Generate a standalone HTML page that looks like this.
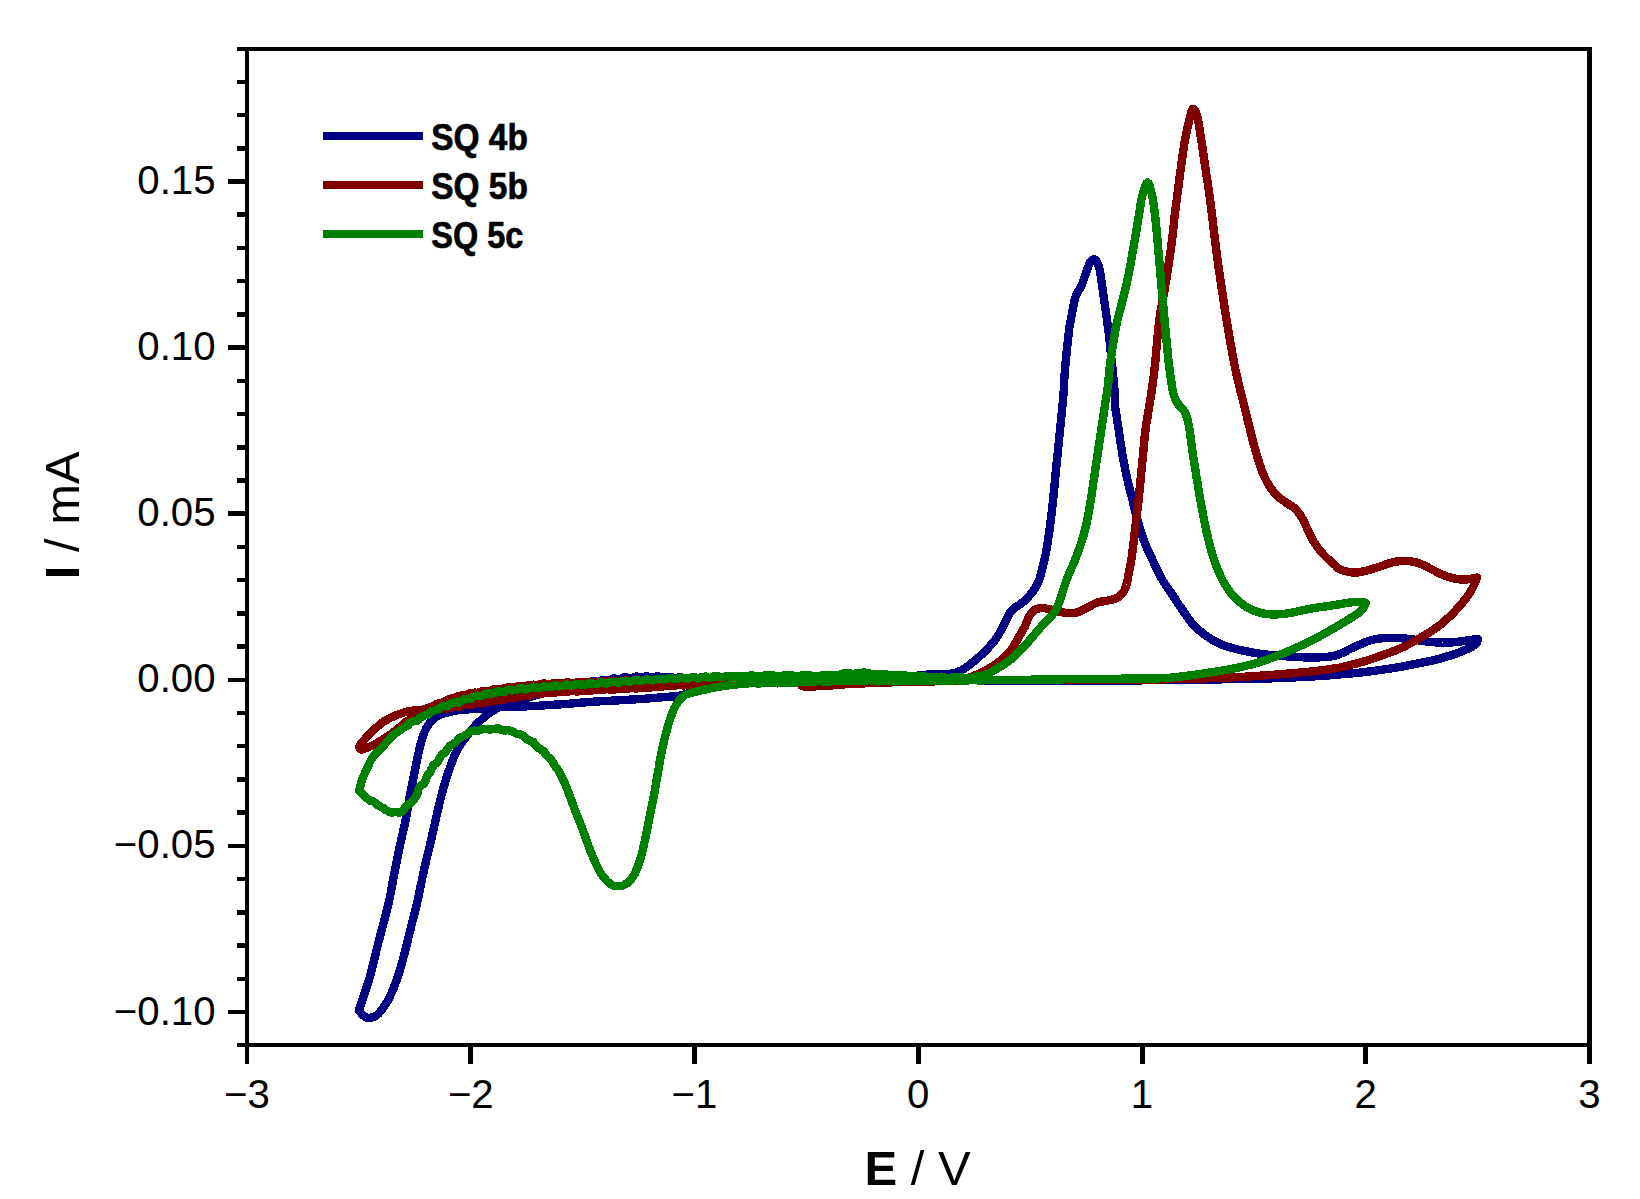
<!DOCTYPE html>
<html lang="en"><head><meta charset="utf-8"><title>Cyclic voltammograms SQ 4b, SQ 5b, SQ 5c</title>
<style>html,body{margin:0;padding:0;background:#fff}body{width:1640px;height:1199px;overflow:hidden}</style></head>
<body>
<svg width="1640" height="1199" viewBox="0 0 1640 1199" style="display:block">
<rect width="1640" height="1199" fill="#fff"/>
<g id="curves" shape-rendering="crispEdges">
<path d="M750.0,679.5L751.3,679.5L752.8,679.5L754.4,679.5L756.2,679.5L758.1,679.5L760.1,679.5L762.2,679.5L764.4,679.5L766.7,679.5L769.1,679.5L771.6,679.6L774.2,679.6L776.9,679.6L779.6,679.6L782.4,679.6L785.2,679.6L788.1,679.6L791.0,679.6L793.9,679.6L796.9,679.6L799.9,679.6L802.8,679.6L805.8,679.6L808.8,679.6L811.8,679.6L814.7,679.6L817.6,679.6L820.5,679.6L823.4,679.6L826.2,679.6L828.9,679.6L831.6,679.6L834.2,679.6L836.8,679.6L839.2,679.6L841.6,679.6L843.8,679.6L846.0,679.5L848.1,679.5L850.0,679.5L853.7,679.4L857.1,679.4L860.4,679.3L863.6,679.2L866.6,679.2L869.5,679.1L872.2,679.0L874.8,678.9L877.3,678.8L879.7,678.7L882.0,678.6L884.2,678.4L886.3,678.3L888.4,678.2L890.4,678.1L892.4,678.0L894.3,677.9L896.2,677.7L898.1,677.6L900.0,677.5L903.5,677.2L906.6,677.0L909.4,676.7L911.9,676.4L914.2,676.1L916.3,675.8L918.4,675.5L920.5,675.2L922.7,675.0L925.0,674.8L927.7,674.6L930.5,674.5L933.2,674.5L936.0,674.4L938.6,674.4L941.2,674.4L943.7,674.3L945.9,674.2L948.0,674.0L951.1,673.6L953.6,673.2L955.7,672.7L957.7,672.0L960.0,671.0L962.1,669.9L964.1,668.7L966.2,667.3L968.3,665.7L970.4,664.1L972.5,662.5L974.3,661.0L976.1,659.5L978.0,657.9L979.8,656.2L981.6,654.5L983.3,652.9L985.0,651.2L986.9,649.4L988.7,647.5L990.4,645.5L992.0,643.7L993.6,641.8L995.0,640.0L996.5,637.9L997.8,635.9L999.0,633.9L1000.1,632.0L1001.2,630.0L1002.6,627.4L1003.9,624.8L1005.1,622.3L1006.2,620.0L1007.5,617.2L1008.7,614.7L1010.0,612.5L1011.5,610.6L1013.1,609.1L1015.0,607.5L1016.7,606.3L1018.6,605.2L1020.6,603.9L1022.5,602.5L1024.4,600.8L1026.3,599.0L1028.2,597.0L1030.0,595.0L1031.7,592.9L1033.4,590.7L1034.9,588.5L1036.2,586.2L1037.4,584.1L1038.4,582.0L1039.2,579.8L1040.0,577.5L1040.7,575.1L1041.3,572.7L1041.9,570.2L1042.5,567.5L1043.1,565.4L1043.6,563.3L1044.2,561.0L1044.8,558.3L1045.5,555.0L1045.9,553.0L1046.3,550.8L1046.7,548.4L1047.1,545.9L1047.5,543.3L1047.9,540.6L1048.3,537.9L1048.7,535.2L1049.1,532.6L1049.5,530.0L1049.8,527.5L1050.2,525.0L1050.5,522.5L1050.8,520.0L1051.1,517.5L1051.4,515.0L1051.7,512.5L1051.9,510.0L1052.2,507.5L1052.5,505.0L1052.8,502.5L1053.0,500.0L1053.3,497.5L1053.5,495.0L1053.8,492.5L1054.0,490.0L1054.3,487.5L1054.5,485.0L1054.8,482.5L1055.0,480.0L1055.2,477.5L1055.5,475.0L1055.7,472.5L1056.0,470.0L1056.2,467.5L1056.5,465.0L1056.7,462.5L1057.0,460.0L1057.2,457.5L1057.5,455.0L1057.8,452.5L1058.0,450.0L1058.2,447.5L1058.5,445.0L1058.8,442.5L1059.0,440.0L1059.2,437.5L1059.5,435.0L1059.8,432.5L1060.0,430.0L1060.3,427.5L1060.5,424.9L1060.8,422.2L1061.1,419.6L1061.3,417.0L1061.6,414.4L1061.8,411.9L1062.1,409.5L1062.3,407.2L1062.5,405.0L1062.8,402.1L1063.0,399.4L1063.2,396.8L1063.4,394.4L1063.6,392.2L1063.8,390.0L1063.9,388.0L1064.1,385.0L1064.2,382.6L1064.2,380.3L1064.4,377.5L1064.6,375.2L1064.7,372.7L1065.0,370.1L1065.2,367.5L1065.4,364.9L1065.6,362.5L1065.9,359.8L1066.1,357.3L1066.4,354.8L1066.6,352.4L1066.9,350.0L1067.1,347.7L1067.4,345.4L1067.6,343.2L1067.9,341.0L1068.1,338.8L1068.3,336.5L1068.6,334.2L1068.8,331.9L1069.1,329.7L1069.4,327.5L1069.8,324.9L1070.3,322.4L1070.8,320.0L1071.2,317.5L1071.7,315.0L1072.2,312.4L1072.6,309.9L1073.1,307.5L1073.6,305.2L1074.0,302.9L1074.5,300.7L1075.0,298.8L1075.7,296.5L1076.6,294.5L1077.5,292.5L1078.7,290.5L1080.0,288.5L1081.2,286.2L1082.1,284.2L1082.9,282.0L1083.6,279.7L1084.4,277.5L1085.2,275.3L1086.0,273.0L1086.8,270.8L1087.5,268.8L1088.3,266.4L1089.1,264.3L1090.0,262.5L1091.9,260.1L1093.9,259.0L1095.9,260.5L1097.7,263.5L1098.6,265.6L1099.3,268.1L1100.0,271.2L1100.3,273.2L1100.7,275.2L1101.0,277.5L1101.3,279.9L1101.6,282.4L1102.0,285.0L1102.3,287.3L1102.7,289.7L1103.0,292.2L1103.4,294.8L1103.8,297.4L1104.1,300.0L1104.5,302.5L1104.9,305.0L1105.2,307.4L1105.6,309.9L1105.9,312.3L1106.3,314.8L1106.6,317.4L1107.0,320.0L1107.3,322.3L1107.6,324.7L1107.9,327.1L1108.2,329.5L1108.6,332.0L1108.9,334.6L1109.2,337.2L1109.5,340.0L1109.8,342.3L1110.0,344.7L1110.2,347.1L1110.5,349.6L1110.8,352.2L1111.0,354.8L1111.2,357.3L1111.5,359.9L1111.8,362.5L1112.0,365.0L1112.3,367.5L1112.5,370.2L1112.8,372.8L1113.1,375.5L1113.4,378.1L1113.6,380.7L1113.9,383.2L1114.1,385.6L1114.3,387.9L1114.5,390.0L1114.7,393.0L1114.7,395.4L1114.7,397.5L1114.7,399.6L1114.8,402.0L1115.0,405.0L1115.2,407.1L1115.5,409.4L1115.9,411.8L1116.3,414.3L1116.7,416.9L1117.1,419.5L1117.5,422.2L1117.9,424.8L1118.4,427.5L1118.8,430.0L1119.1,432.5L1119.5,435.0L1119.8,437.5L1120.2,440.0L1120.5,442.5L1120.9,445.0L1121.3,447.5L1121.7,450.0L1122.1,452.5L1122.5,455.0L1122.9,457.5L1123.4,460.1L1123.9,462.7L1124.4,465.2L1124.9,467.8L1125.4,470.4L1126.0,472.9L1126.5,475.3L1127.0,477.7L1127.5,480.0L1128.1,482.7L1128.8,485.4L1129.4,487.9L1130.0,490.3L1130.6,492.7L1131.2,495.1L1131.9,497.5L1132.5,500.0L1133.1,502.5L1133.7,505.0L1134.3,507.5L1134.9,510.0L1135.5,512.5L1136.2,515.0L1136.8,517.5L1137.5,520.0L1138.2,522.5L1138.9,525.0L1139.6,527.5L1140.4,530.0L1141.2,532.5L1142.0,535.0L1142.8,537.5L1143.8,540.0L1144.6,542.2L1145.5,544.4L1146.4,546.7L1147.4,548.9L1148.4,551.1L1149.4,553.3L1150.4,555.6L1151.5,557.8L1152.5,560.0L1153.6,562.2L1154.6,564.5L1155.7,566.9L1156.9,569.2L1158.0,571.5L1159.1,573.7L1160.3,575.9L1161.4,578.0L1162.5,580.0L1163.9,582.4L1165.4,584.7L1166.8,586.8L1168.2,588.8L1169.6,590.9L1171.1,592.9L1172.5,595.0L1173.9,597.2L1175.4,599.3L1176.8,601.5L1178.2,603.7L1179.6,605.8L1181.1,607.9L1182.5,610.0L1183.9,612.1L1185.3,614.1L1186.7,616.1L1188.0,618.1L1189.5,620.0L1190.9,621.9L1192.5,623.8L1194.1,625.5L1195.8,627.2L1197.6,628.9L1199.3,630.5L1201.2,632.0L1203.1,633.5L1205.0,635.0L1207.0,636.4L1209.1,637.8L1211.3,639.1L1213.4,640.4L1215.6,641.6L1217.8,642.7L1220.0,643.8L1222.4,644.8L1224.6,645.7L1226.9,646.5L1229.3,647.2L1231.9,648.0L1235.0,648.8L1237.1,649.3L1239.4,649.8L1241.8,650.3L1244.3,650.9L1246.9,651.4L1249.5,651.9L1252.2,652.4L1254.8,652.9L1257.5,653.4L1260.0,653.8L1262.5,654.1L1265.0,654.4L1267.5,654.7L1270.0,655.0L1272.5,655.2L1275.0,655.5L1277.5,655.7L1280.0,655.9L1282.5,656.1L1285.0,656.2L1287.5,656.4L1290.1,656.6L1292.7,656.8L1295.2,656.9L1297.8,657.1L1300.4,657.2L1302.9,657.3L1305.3,657.4L1307.7,657.5L1310.0,657.5L1312.8,657.5L1315.6,657.4L1318.3,657.4L1320.9,657.2L1323.5,657.1L1325.8,656.9L1328.0,656.7L1330.0,656.5L1333.2,656.0L1335.6,655.5L1337.7,654.8L1340.0,654.0L1342.5,652.9L1345.0,651.6L1347.5,650.3L1350.0,649.0L1352.5,647.8L1355.0,646.7L1357.5,645.6L1360.0,644.5L1362.5,643.4L1365.0,642.3L1367.5,641.3L1370.0,640.5L1372.5,639.8L1375.0,639.3L1377.5,638.8L1380.0,638.5L1382.4,638.2L1384.7,638.1L1387.1,638.0L1390.0,638.0L1392.2,638.0L1394.6,638.0L1397.2,638.1L1399.8,638.2L1402.4,638.3L1405.0,638.5L1407.6,638.8L1410.2,639.1L1412.8,639.4L1415.4,639.8L1417.8,640.2L1420.0,640.5L1422.9,640.9L1425.3,641.3L1427.6,641.7L1430.0,642.0L1432.5,642.2L1435.0,642.3L1437.5,642.4L1440.0,642.5L1442.5,642.6L1445.0,642.6L1447.5,642.6L1450.0,642.5L1452.5,642.3L1455.0,642.1L1457.5,641.8L1460.0,641.5L1462.5,641.1L1465.1,640.8L1467.6,640.4L1470.0,640.0L1473.1,639.6L1476.0,639.2L1478.0,639.0L1477.0,642.5L1475.4,644.2L1473.0,646.0L1471.3,647.0L1469.4,648.0L1467.2,649.0L1465.0,650.0L1462.6,651.0L1460.1,652.1L1457.5,653.1L1455.0,654.0L1452.5,654.8L1450.0,655.6L1447.5,656.3L1445.0,657.0L1442.6,657.8L1440.3,658.5L1437.9,659.2L1435.0,660.0L1432.8,660.5L1430.6,661.0L1428.1,661.4L1425.6,661.9L1422.8,662.4L1420.0,663.0L1417.7,663.5L1415.4,664.0L1412.9,664.5L1410.3,665.0L1407.7,665.5L1405.1,666.0L1402.5,666.5L1400.0,667.0L1397.5,667.4L1395.0,667.8L1392.5,668.2L1390.0,668.6L1387.5,668.9L1385.0,669.3L1382.5,669.7L1380.0,670.0L1377.5,670.3L1375.0,670.7L1372.5,671.0L1370.0,671.4L1367.5,671.7L1365.0,672.0L1362.5,672.3L1360.0,672.6L1357.5,672.9L1355.0,673.1L1352.5,673.3L1350.0,673.6L1347.5,673.8L1345.0,674.0L1342.5,674.2L1340.0,674.4L1337.6,674.6L1335.5,674.8L1333.4,675.0L1331.2,675.2L1329.0,675.4L1326.4,675.6L1323.5,675.8L1320.0,676.0L1318.0,676.1L1316.0,676.2L1313.7,676.4L1311.4,676.5L1309.0,676.6L1306.5,676.8L1303.9,676.9L1301.2,677.0L1298.6,677.2L1295.9,677.3L1293.2,677.4L1290.5,677.6L1287.8,677.7L1285.1,677.8L1282.5,677.9L1280.0,678.0L1277.7,678.1L1275.7,678.2L1273.9,678.2L1272.3,678.3L1270.9,678.4L1269.4,678.4L1267.9,678.5L1266.2,678.5L1264.4,678.6L1262.3,678.6L1259.9,678.7L1257.0,678.7L1253.7,678.8L1249.8,678.9L1245.2,678.9L1240.0,679.0L1238.4,679.0L1236.7,679.0L1235.0,679.1L1233.2,679.1L1231.4,679.1L1229.6,679.1L1227.7,679.2L1225.8,679.2L1223.8,679.2L1221.8,679.3L1219.8,679.3L1217.7,679.3L1215.6,679.4L1213.4,679.4L1211.3,679.4L1209.0,679.5L1206.8,679.5L1204.5,679.5L1202.2,679.5L1199.8,679.6L1197.5,679.6L1195.1,679.6L1192.6,679.7L1190.1,679.7L1187.6,679.7L1185.1,679.8L1182.6,679.8L1180.0,679.8L1177.4,679.9L1174.8,679.9L1172.1,679.9L1169.4,680.0L1166.7,680.0L1164.0,680.0L1161.3,680.1L1158.5,680.1L1155.7,680.1L1152.9,680.1L1150.1,680.2L1147.3,680.2L1144.4,680.2L1141.6,680.3L1138.7,680.3L1135.8,680.3L1132.9,680.3L1129.9,680.3L1127.0,680.4L1124.0,680.4L1121.1,680.4L1118.1,680.4L1115.1,680.4L1112.1,680.5L1109.1,680.5L1106.1,680.5L1103.0,680.5L1100.0,680.5L1097.9,680.5L1095.7,680.5L1093.5,680.5L1091.3,680.5L1089.1,680.5L1086.8,680.5L1084.5,680.5L1082.2,680.5L1079.9,680.5L1077.5,680.5L1075.2,680.5L1072.8,680.5L1070.4,680.5L1067.9,680.5L1065.5,680.5L1063.0,680.5L1060.6,680.5L1058.1,680.5L1055.6,680.5L1053.0,680.5L1050.5,680.5L1048.0,680.5L1045.4,680.5L1042.8,680.5L1040.3,680.5L1037.7,680.5L1035.1,680.5L1032.4,680.5L1029.8,680.4L1027.2,680.4L1024.6,680.4L1021.9,680.4L1019.3,680.4L1016.6,680.4L1014.0,680.4L1011.3,680.4L1008.6,680.4L1006.0,680.4L1003.3,680.4L1000.6,680.3L998.0,680.3L995.3,680.3L992.6,680.3L989.9,680.3L987.3,680.3L984.6,680.3L981.9,680.3L979.3,680.3L976.6,680.2L974.0,680.2L971.3,680.2L968.7,680.2L966.1,680.2L963.4,680.2L960.8,680.2L958.2,680.2L955.6,680.2L953.0,680.2L950.5,680.1L947.9,680.1L945.3,680.1L942.8,680.1L940.3,680.1L937.8,680.1L935.3,680.1L932.8,680.1L930.3,680.1L927.9,680.1L925.4,680.1L923.0,680.1L920.6,680.0L918.2,680.0L915.9,680.0L913.6,680.0L911.2,680.0L908.9,680.0L906.7,680.0L904.4,680.0L902.2,680.0L900.0,680.0L897.1,680.0L894.2,680.0L891.3,680.0L888.3,680.0L885.4,680.0L882.5,680.0L879.6,680.0L876.7,680.0L873.8,680.0L870.9,680.0L868.1,680.0L865.2,680.0L862.3,680.0L859.5,680.0L856.6,680.0L853.8,680.0L851.0,680.0L848.2,680.0L845.4,680.0L842.6,680.0L839.8,680.0L837.1,680.0L834.3,680.0L831.6,680.0L828.9,680.0L826.2,680.0L823.5,680.0L820.9,680.1L818.2,680.1L815.6,680.1L813.0,680.1L810.5,680.1L807.9,680.1L805.4,680.1L802.9,680.1L800.4,680.1L797.9,680.1L795.5,680.1L793.1,680.1L790.7,680.1L788.4,680.1L786.1,680.1L783.8,680.1L781.5,680.1L779.3,680.1L777.1,680.1L774.9,680.1L772.8,680.1L770.7,680.1L768.6,680.1L766.6,680.1L764.6,680.1L762.6,680.1L760.7,680.1L758.8,680.1L757.0,680.0L755.2,680.0L753.4,680.0L751.7,680.0L750.0,680.0L745.3,680.0L741.0,679.9L737.2,679.9L733.7,679.8L730.7,679.7L727.9,679.7L725.4,679.6L723.2,679.5L721.1,679.4L719.2,679.4L717.5,679.3L715.8,679.1L714.1,679.0L712.5,678.5L710.7,679.0L708.9,679.0L706.9,679.5L704.9,678.4L702.6,678.2L700.0,677.9L697.6,679.2L695.2,678.8L692.7,677.6L690.2,677.9L687.6,678.1L685.0,678.6L682.4,677.9L679.8,676.7L677.1,677.9L674.5,678.4L671.8,677.1L669.2,676.9L666.5,677.3L663.9,677.6L661.3,677.6L658.7,676.3L656.2,676.5L653.7,677.9L651.2,677.1L648.8,676.7L646.5,676.2L644.2,677.0L642.0,677.8L639.1,676.8L636.3,676.6L633.6,677.5L631.0,677.8L628.4,678.0L625.9,677.3L623.4,677.4L621.1,679.1L618.7,678.8L616.3,678.8L613.9,678.3L611.7,679.2L609.5,680.5L607.1,680.0L604.7,680.2L602.3,679.8L600.1,681.4L597.6,682.2L594.8,681.3L592.2,681.8L589.6,682.8L587.1,683.6L584.5,684.0L581.7,683.5L579.2,684.4L576.9,686.3L574.2,685.8L571.5,685.7L569.2,686.8L566.9,687.6L564.7,688.8L562.1,688.0L559.9,688.4L557.2,690.1L554.5,690.7L551.6,690.7L549.0,691.5L546.5,692.3L544.1,693.2L541.6,693.7L539.3,694.3L536.9,695.0L534.6,695.7L532.3,696.3L530.0,697.0L527.3,697.8L524.5,698.6L521.8,699.4L519.2,700.2L516.6,701.0L514.0,701.8L511.6,702.6L509.3,703.4L507.1,704.2L505.0,705.0L502.3,706.1L499.8,707.2L497.6,708.2L495.5,709.3L493.6,710.4L491.7,711.4L490.0,712.5L487.8,714.0L485.9,715.4L484.3,716.9L482.7,718.4L481.0,720.0L479.3,721.6L477.6,723.3L475.9,725.0L474.2,726.8L472.5,728.8L471.0,730.5L469.6,732.3L468.1,734.1L466.6,736.1L465.2,738.0L463.8,740.0L462.4,742.0L461.0,744.0L459.7,746.0L458.4,748.1L457.2,750.3L456.0,752.5L454.9,754.9L453.8,757.3L452.8,759.8L451.9,762.4L450.9,765.0L450.0,767.5L449.1,770.0L448.3,772.4L447.4,774.8L446.6,777.2L445.8,779.8L445.0,782.5L444.4,784.6L443.7,786.9L443.1,789.2L442.5,791.5L441.8,793.9L441.2,796.3L440.6,798.6L440.0,801.0L439.4,803.3L438.9,805.6L438.4,807.8L437.8,810.1L437.3,812.4L436.8,814.8L436.2,817.3L435.6,820.0L435.1,822.3L434.6,824.6L434.0,827.1L433.5,829.6L432.9,832.1L432.3,834.7L431.7,837.3L431.2,839.9L430.6,842.5L430.0,845.0L429.4,847.5L428.8,849.9L428.2,852.3L427.6,854.8L427.0,857.2L426.4,859.6L425.8,862.1L425.2,864.7L424.6,867.3L424.0,870.0L423.5,872.4L423.0,874.8L422.4,877.4L421.9,880.0L421.4,882.6L420.8,885.2L420.3,887.9L419.8,890.5L419.2,893.0L418.7,895.4L418.2,897.8L417.8,900.0L417.1,902.8L416.5,905.4L415.9,907.9L415.3,910.3L414.7,912.5L414.1,914.8L413.6,916.9L413.0,919.1L412.5,921.2L411.8,923.9L411.2,926.5L410.6,929.0L409.9,931.4L409.3,933.9L408.7,936.3L408.1,938.8L407.5,941.3L406.9,943.8L406.3,946.2L405.7,948.8L405.0,951.2L404.4,953.8L403.8,956.2L403.1,958.8L402.4,961.4L401.7,963.9L400.9,966.5L400.2,969.0L399.5,971.4L398.8,973.8L397.9,976.3L397.1,978.7L396.2,981.0L395.4,983.2L394.6,985.4L393.8,987.5L392.8,989.9L391.8,992.2L390.8,994.5L389.8,996.6L388.8,998.8L387.6,1000.9L386.3,1003.0L385.1,1005.0L383.8,1007.0L382.5,1008.8L380.9,1010.8L379.4,1012.7L377.8,1014.3L376.2,1015.6L374.1,1016.8L372.0,1017.4L370.0,1017.8L367.5,1017.9L365.0,1016.9L363.4,1015.6L361.6,1013.7L359.9,1011.9L358.8,1010.6L359.2,1009.2L359.8,1007.4L360.6,1005.2L361.4,1002.8L362.3,1000.2L363.1,997.6L364.0,995.0L364.7,992.7L365.5,990.4L366.3,988.0L367.1,985.6L368.0,983.1L368.8,980.5L369.6,977.8L370.4,975.0L371.0,972.7L371.6,970.3L372.2,967.9L372.8,965.4L373.4,962.8L374.0,960.2L374.7,957.7L375.3,955.1L375.9,952.5L376.5,950.0L377.1,947.5L377.8,945.0L378.4,942.5L379.1,940.0L379.7,937.5L380.4,935.0L381.1,932.5L381.7,930.0L382.4,927.5L383.0,925.0L383.6,922.5L384.3,920.0L385.0,917.5L385.6,915.0L386.3,912.5L386.9,910.0L387.5,907.5L388.1,905.0L388.7,902.5L389.3,900.0L389.8,897.5L390.3,895.0L390.8,892.5L391.3,890.0L391.7,887.5L392.2,885.0L392.6,882.5L393.1,880.0L393.5,877.5L394.0,875.0L394.5,872.5L395.0,870.1L395.4,867.7L395.9,865.2L396.4,862.8L396.9,860.4L397.4,857.9L397.9,855.3L398.4,852.7L399.0,850.0L399.5,847.7L400.0,845.2L400.6,842.7L401.2,840.2L401.7,837.6L402.3,835.0L402.9,832.4L403.5,829.8L404.1,827.3L404.6,824.8L405.1,822.3L405.6,820.0L406.1,817.3L406.6,814.6L407.1,811.9L407.5,809.4L408.0,806.8L408.4,804.3L408.8,801.9L409.2,799.5L409.6,797.2L410.0,795.0L410.5,792.3L411.0,789.8L411.5,787.4L411.9,785.1L412.4,782.8L412.8,780.6L413.3,778.3L413.8,776.0L414.2,773.6L414.7,771.3L415.2,768.9L415.6,766.5L416.1,764.2L416.6,761.9L417.0,759.6L417.5,757.5L418.1,754.8L418.7,752.1L419.2,749.6L419.8,747.1L420.4,744.8L421.0,742.5L421.8,739.9L422.5,737.5L423.3,735.2L424.1,733.1L425.0,731.0L426.1,728.6L427.3,726.4L428.6,724.4L430.0,722.5L431.6,720.7L433.4,718.9L435.4,717.4L437.5,716.0L439.8,714.9L442.2,714.0L444.8,713.2L447.5,712.5L449.8,711.9L452.1,711.4L454.5,710.9L457.1,710.4L460.0,710.0L462.2,709.8L464.4,709.6L466.8,709.4L469.2,709.3L471.8,709.1L474.6,708.9L477.5,708.8L479.7,708.6L482.0,708.4L484.4,708.2L487.0,708.0L489.5,707.8L492.1,707.6L494.8,707.5L497.4,707.3L500.0,707.1L502.5,707.0L505.0,706.9L507.7,706.8L510.3,706.7L513.0,706.6L515.7,706.6L518.3,706.5L520.8,706.5L523.2,706.4L525.4,706.4L527.5,706.3L530.4,706.2L532.8,706.1L534.9,706.0L536.9,705.8L539.2,705.7L542.0,705.5L544.2,705.4L546.5,705.2L548.9,705.1L551.5,704.9L554.1,704.7L556.8,704.6L559.5,704.4L562.3,704.2L565.0,704.0L567.5,703.8L570.0,703.6L572.6,703.4L575.3,703.2L577.9,702.9L580.6,702.7L583.3,702.5L585.9,702.3L588.5,702.1L591.0,701.9L593.5,701.7L595.9,701.6L598.3,701.4L600.6,701.3L602.9,701.2L605.3,701.0L607.6,700.9L610.0,700.8L612.5,700.6L615.0,700.5L617.4,700.4L619.8,700.2L622.3,700.1L624.8,699.9L627.3,699.8L629.8,699.7L632.4,699.5L634.8,699.4L637.3,699.2L639.7,699.1L642.0,698.9L644.8,698.7L647.5,698.5L650.2,698.3L652.9,698.1L655.5,697.8L658.0,697.6L660.4,697.4L662.8,697.2L665.0,697.0L668.1,696.8L671.0,696.5L673.8,696.4L676.3,696.1L678.7,695.9L681.0,695.5L683.3,695.0L685.2,694.3L687.0,693.6L689.1,692.9L692.0,692.0L694.0,691.5L696.1,690.9L698.3,690.3L700.7,689.6L703.3,689.0L706.0,688.3L708.9,687.7L711.9,687.1L715.0,686.5L717.2,686.1L719.7,685.8L722.3,685.4L725.1,685.0L728.0,684.6L731.0,684.3L733.9,683.9L736.8,683.6L739.6,683.2L742.2,682.9L744.6,682.6L746.7,682.4L748.5,682.2L750.0,682.0" fill="none" stroke="#000080" stroke-width="8.4" stroke-linejoin="round" stroke-linecap="round"/>
<path d="M750.0,680.0L748.6,680.0L747.1,680.0L745.3,680.0L743.3,680.0L741.2,680.0L738.9,680.0L736.5,680.0L734.0,680.0L731.3,680.0L728.6,680.0L725.8,680.0L723.0,680.0L720.1,680.0L717.2,680.0L714.2,680.0L711.3,680.0L708.4,680.0L705.5,680.0L702.7,680.0L700.0,680.0L697.6,680.0L695.2,680.1L692.8,680.2L690.3,680.2L687.8,679.6L685.3,680.0L682.7,680.2L680.1,680.5L677.6,680.0L675.0,679.6L672.4,680.3L669.8,680.3L667.2,680.6L664.6,679.9L662.0,679.8L659.4,680.5L656.8,680.5L654.3,680.6L651.8,679.8L649.3,680.3L646.8,680.6L644.4,680.8L642.0,680.5L639.3,680.0L636.6,680.7L633.9,680.9L631.3,681.0L628.6,680.6L626.0,680.4L623.4,681.2L620.9,681.2L618.3,681.3L615.7,680.7L613.2,681.0L610.7,681.7L608.2,681.6L605.7,681.6L603.2,681.0L600.8,681.7L598.3,681.9L595.9,682.2L593.4,681.8L591.0,681.6L588.3,682.2L585.6,682.4L582.9,682.6L580.1,682.0L577.4,682.1L574.7,683.0L572.0,682.8L569.3,682.7L566.7,682.5L564.1,682.8L561.5,683.6L559.0,683.1L556.5,683.2L554.0,682.9L551.7,683.7L549.4,683.9L547.2,684.1L545.0,683.6L541.9,683.7L539.0,684.8L536.1,684.8L533.4,684.7L530.8,684.9L528.3,685.2L526.0,686.3L523.6,686.0L521.4,686.3L519.1,685.9L517.1,686.8L515.0,687.1L512.2,687.8L509.4,687.4L507.0,687.5L504.8,688.1L502.6,688.8L500.5,689.1L498.3,689.1L495.9,689.0L493.3,689.5L490.7,690.7L487.9,690.7L485.1,690.8L482.5,691.1L479.9,691.8L477.6,692.8L474.8,692.6L472.2,692.9L469.7,693.5L467.4,694.4L465.1,695.2L462.4,695.1L459.9,695.9L457.3,696.6L455.0,698.0L452.4,698.6L449.7,698.7L447.5,699.9L444.9,701.0L442.5,702.5L439.9,703.2L437.2,703.7L435.1,705.4L432.6,706.4L430.1,707.4L427.5,708.1L425.0,708.9L422.5,709.8L420.0,710.2L417.6,710.3L415.1,710.4L412.6,710.6L410.0,711.0L407.8,711.5L405.5,712.1L403.1,712.8L400.8,713.6L398.5,714.4L396.2,715.2L394.1,716.1L391.9,717.1L389.8,718.1L387.7,719.2L385.7,720.3L383.8,721.5L381.6,723.0L379.5,724.7L377.5,726.5L375.6,728.2L373.8,730.0L371.9,731.8L370.0,733.7L368.2,735.5L366.5,737.3L365.0,739.0L363.2,741.0L361.6,742.8L360.3,744.5L359.5,746.0L359.5,748.4L361.5,749.5L363.5,749.1L366.1,748.2L368.9,747.0L371.2,746.0L373.4,745.1L375.1,744.2L377.5,742.8L379.2,741.7L381.2,740.5L383.4,739.2L385.6,737.7L387.8,736.2L390.0,734.8L392.2,733.2L394.4,731.4L396.6,729.7L398.8,727.9L400.8,726.4L402.5,725.0L404.5,723.2L405.8,721.9L408.8,720.2L410.4,719.4L412.4,718.5L414.7,717.5L417.1,716.4L419.6,715.3L422.3,714.2L424.9,713.3L427.5,712.2L429.9,711.2L432.5,711.1L434.9,710.5L437.4,710.0L439.7,708.9L442.2,708.8L444.8,708.9L447.3,708.5L449.9,708.0L452.4,706.9L454.9,707.2L457.4,706.9L459.9,706.6L462.3,705.7L464.8,705.0L467.4,705.3L470.0,704.9L472.5,704.6L474.9,703.5L477.5,703.2L480.0,703.4L482.5,702.9L485.0,702.5L487.4,701.3L490.0,701.5L492.5,701.3L495.1,701.0L497.5,700.2L499.9,699.4L502.5,699.6L505.1,699.3L507.7,699.0L510.2,697.9L512.8,697.5L515.5,697.8L518.1,697.2L520.6,696.8L522.9,695.8L525.3,695.8L527.5,695.7L530.2,695.5L532.2,694.7L534.0,694.2L535.8,693.5L538.2,693.9L541.1,693.7L545.0,692.7L546.8,692.7L548.8,692.2L551.0,692.9L553.2,692.6L555.6,692.6L558.0,691.6L560.6,691.8L563.2,692.0L565.9,691.9L568.7,691.6L571.4,690.8L574.2,691.2L577.1,691.6L579.9,690.7L582.7,690.5L585.5,690.5L588.3,690.7L591.0,690.7L593.4,689.7L595.9,689.8L598.5,689.9L601.1,690.2L603.7,689.9L606.3,689.0L609.0,689.4L611.6,689.5L614.3,689.5L616.9,689.0L619.6,688.3L622.2,689.0L624.9,688.9L627.4,688.7L630.0,688.1L632.5,687.9L635.0,688.5L637.4,688.3L639.7,688.2L642.0,687.3L644.7,687.5L647.4,687.7L649.9,687.6L652.3,687.2L654.6,686.5L657.0,686.8L659.3,686.7L661.5,687.0L663.7,686.2L666.0,686.0L668.3,685.5L670.7,686.2L673.1,685.9L675.6,685.7L678.2,684.9L681.0,684.9L683.3,685.4L685.7,685.2L688.1,684.9L690.6,684.3L693.2,684.6L695.8,684.5L698.5,684.4L701.2,684.2L703.9,684.1L706.6,684.0L709.3,683.9L712.0,683.7L714.6,683.6L717.3,683.5L719.9,683.4L722.4,683.3L724.9,683.2L727.4,683.1L729.7,683.1L732.0,683.0L734.9,682.9L737.8,682.8L740.6,682.8L743.3,682.7L746.0,682.7L748.6,682.6L751.2,682.6L753.7,682.6L756.1,682.5L758.6,682.5L760.9,682.5L763.2,682.5L765.5,682.5L767.8,682.5L770.0,682.5L773.0,682.5L776.0,682.5L779.0,682.5L781.8,682.5L784.6,682.5L787.3,682.5L789.9,682.6L792.2,682.6L794.4,682.7L796.3,682.8L798.0,683.0L800.9,684.1L801.3,685.6L804.0,686.5L805.8,686.6L808.0,686.6L810.5,686.5L813.2,686.4L816.1,686.3L819.1,686.2L822.0,686.0L824.9,685.8L827.6,685.6L830.0,685.5L832.6,685.3L834.7,685.2L836.6,685.0L838.5,684.8L840.6,684.6L843.0,684.4L846.1,684.2L850.0,684.0L851.8,683.9L853.7,683.8L855.8,683.7L858.0,683.6L860.2,683.5L862.5,683.4L865.0,683.3L867.5,683.2L870.0,683.1L872.6,683.0L875.3,682.9L878.0,682.8L880.7,682.7L883.5,682.6L886.2,682.5L889.0,682.4L891.8,682.3L894.5,682.2L897.3,682.1L900.0,682.0L902.4,681.9L904.9,681.9L907.5,681.8L910.2,681.7L912.9,681.7L915.7,681.6L918.5,681.6L921.3,681.5L924.2,681.5L927.0,681.4L929.8,681.4L932.6,681.4L935.4,681.3L938.1,681.2L940.8,681.2L943.3,681.1L945.8,681.1L948.2,681.0L950.4,680.9L952.5,680.8L954.5,680.7L956.3,680.6L958.0,680.5L962.9,680.0L965.9,679.5L967.7,678.8L968.9,678.1L970.1,677.4L972.0,676.5L974.1,675.7L976.3,674.8L978.5,673.8L980.7,672.8L982.8,671.7L985.0,670.6L987.0,669.5L989.3,668.2L991.6,666.8L993.8,665.4L996.0,664.0L998.0,662.5L1000.0,661.0L1001.9,659.4L1003.7,657.8L1005.5,656.1L1007.1,654.4L1008.7,652.8L1010.0,651.2L1011.6,649.2L1012.8,647.4L1013.9,645.7L1015.0,643.8L1016.2,641.7L1017.5,639.5L1018.8,637.2L1020.0,635.0L1021.3,632.8L1022.6,630.5L1023.9,628.3L1025.0,626.2L1026.1,623.6L1027.0,621.1L1028.0,618.8L1029.2,616.5L1030.5,614.3L1031.9,612.5L1033.9,610.5L1036.2,609.2L1038.1,608.5L1040.3,608.1L1042.5,608.0L1044.8,608.2L1047.3,608.8L1050.0,609.4L1052.3,610.0L1054.8,610.7L1057.4,611.3L1060.0,611.9L1062.5,612.3L1065.1,612.7L1067.6,613.0L1070.0,613.1L1072.3,613.0L1074.5,612.8L1076.6,612.5L1078.8,611.9L1080.9,611.0L1083.0,609.9L1085.2,608.7L1087.5,607.5L1089.9,606.2L1092.4,604.8L1095.0,603.5L1097.5,602.5L1100.0,601.8L1102.6,601.4L1105.1,601.0L1107.5,600.6L1109.8,600.1L1112.1,599.6L1114.2,599.0L1116.2,598.1L1118.2,597.0L1120.0,595.6L1121.6,594.1L1123.0,592.5L1124.4,590.2L1125.5,587.6L1126.5,584.5L1127.1,582.4L1127.5,580.0L1128.0,577.5L1128.5,574.9L1129.0,572.0L1129.4,569.9L1129.8,567.7L1130.3,565.4L1130.7,563.1L1131.1,560.6L1131.6,557.9L1132.0,555.0L1132.3,552.8L1132.6,550.5L1132.9,548.1L1133.2,545.6L1133.5,543.0L1133.8,540.4L1134.1,537.8L1134.4,535.1L1134.7,532.5L1135.0,530.0L1135.3,527.5L1135.6,525.0L1135.9,522.5L1136.2,520.0L1136.5,517.5L1136.8,515.0L1137.1,512.5L1137.4,510.0L1137.7,507.5L1138.0,505.0L1138.3,502.5L1138.5,500.0L1138.8,497.5L1139.0,495.0L1139.3,492.5L1139.5,490.0L1139.8,487.5L1140.0,485.0L1140.3,482.5L1140.5,480.0L1140.8,477.5L1141.0,475.0L1141.2,472.5L1141.5,470.0L1141.8,467.5L1142.0,465.0L1142.2,462.5L1142.5,460.0L1142.8,457.5L1143.0,455.0L1143.2,452.5L1143.5,450.0L1143.7,447.5L1143.9,445.0L1144.2,442.5L1144.4,440.0L1144.6,437.5L1144.9,435.0L1145.2,432.5L1145.5,430.0L1145.8,427.5L1146.2,424.9L1146.6,422.3L1147.0,419.8L1147.5,417.2L1147.9,414.6L1148.3,412.1L1148.7,409.7L1149.1,407.3L1149.5,405.0L1149.9,402.3L1150.3,399.6L1150.7,397.1L1151.1,394.7L1151.5,392.3L1151.8,389.9L1152.2,387.5L1152.5,385.0L1152.8,382.5L1153.2,380.1L1153.5,377.7L1153.8,375.3L1154.1,372.9L1154.4,370.4L1154.7,367.7L1155.0,365.0L1155.2,362.7L1155.5,360.3L1155.7,357.9L1155.9,355.4L1156.1,352.8L1156.3,350.2L1156.5,347.7L1156.8,345.1L1157.0,342.5L1157.2,340.0L1157.5,337.5L1157.7,335.0L1158.0,332.5L1158.2,330.0L1158.5,327.5L1158.8,325.0L1159.0,322.5L1159.3,320.0L1159.7,317.5L1160.0,315.0L1160.4,312.5L1160.8,310.0L1161.2,307.5L1161.7,305.0L1162.2,302.5L1162.7,300.0L1163.1,297.5L1163.6,295.0L1164.1,292.5L1164.5,290.0L1164.9,287.5L1165.3,285.0L1165.8,282.5L1166.2,280.0L1166.6,277.5L1167.0,275.0L1167.4,272.5L1167.7,270.0L1168.1,267.5L1168.5,265.0L1168.9,262.5L1169.2,260.0L1169.6,257.5L1170.0,255.0L1170.3,252.5L1170.7,250.0L1171.0,247.5L1171.4,245.0L1171.7,242.5L1172.0,240.0L1172.3,237.5L1172.6,235.0L1172.9,232.5L1173.1,230.0L1173.4,227.5L1173.7,225.0L1173.9,222.5L1174.2,220.0L1174.5,217.5L1174.8,215.0L1175.1,212.5L1175.4,210.0L1175.7,207.5L1176.0,205.0L1176.3,202.5L1176.7,200.0L1177.0,197.5L1177.3,195.0L1177.7,192.5L1178.0,190.0L1178.3,187.5L1178.6,185.0L1179.0,182.5L1179.3,180.0L1179.6,177.5L1179.9,175.0L1180.2,172.5L1180.6,170.0L1180.9,167.5L1181.2,165.0L1181.6,162.5L1182.0,159.9L1182.3,157.3L1182.7,154.6L1183.1,152.0L1183.5,149.5L1183.9,146.9L1184.2,144.5L1184.6,142.2L1185.0,140.0L1185.5,137.1L1186.1,134.3L1186.6,131.8L1187.1,129.3L1187.6,127.0L1188.2,124.7L1188.8,122.5L1189.4,119.7L1190.1,116.8L1190.8,114.0L1191.5,111.5L1192.3,109.7L1193.0,108.8L1194.1,109.0L1195.3,110.9L1196.4,113.8L1197.5,117.5L1197.9,119.4L1198.4,121.5L1198.8,123.9L1199.2,126.4L1199.6,129.1L1200.0,131.8L1200.4,134.6L1200.8,137.3L1201.2,140.0L1201.6,142.4L1202.0,144.8L1202.4,147.3L1202.8,149.8L1203.1,152.3L1203.5,154.9L1203.9,157.4L1204.2,160.0L1204.6,162.5L1205.0,165.0L1205.4,167.5L1205.8,170.0L1206.1,172.5L1206.5,175.0L1206.9,177.5L1207.3,180.0L1207.7,182.5L1208.0,185.0L1208.4,187.5L1208.8,190.0L1209.1,192.5L1209.4,195.0L1209.8,197.5L1210.1,200.0L1210.4,202.5L1210.7,205.0L1211.1,207.5L1211.4,210.0L1211.7,212.5L1212.0,215.0L1212.3,217.5L1212.6,220.0L1212.9,222.5L1213.2,225.0L1213.5,227.5L1213.8,230.0L1214.1,232.5L1214.4,235.0L1214.7,237.5L1215.0,240.0L1215.3,242.5L1215.6,245.0L1215.9,247.5L1216.3,250.0L1216.6,252.5L1216.9,255.0L1217.2,257.5L1217.6,260.0L1217.9,262.5L1218.2,265.0L1218.6,267.5L1219.0,270.0L1219.3,272.5L1219.7,275.0L1220.1,277.5L1220.5,280.0L1220.9,282.5L1221.2,285.0L1221.6,287.5L1222.0,290.0L1222.4,292.5L1222.7,295.0L1223.1,297.5L1223.5,300.0L1223.8,302.5L1224.2,305.0L1224.6,307.5L1225.0,310.0L1225.4,312.5L1225.8,315.0L1226.2,317.5L1226.6,320.0L1227.0,322.5L1227.4,325.0L1227.8,327.5L1228.3,330.0L1228.7,332.5L1229.1,335.0L1229.6,337.5L1230.0,340.0L1230.4,342.5L1230.9,345.1L1231.3,347.7L1231.8,350.2L1232.2,352.8L1232.7,355.4L1233.1,357.9L1233.6,360.3L1234.0,362.7L1234.5,365.0L1235.1,367.8L1235.6,370.5L1236.2,373.1L1236.8,375.6L1237.4,378.1L1237.9,380.5L1238.5,382.8L1239.0,385.0L1239.7,387.8L1240.3,390.4L1240.9,392.8L1241.6,395.2L1242.2,397.6L1242.8,400.0L1243.4,402.5L1244.0,405.0L1244.7,407.5L1245.3,410.0L1245.9,412.5L1246.5,415.0L1247.1,417.5L1247.7,420.0L1248.3,422.5L1249.0,425.0L1249.6,427.5L1250.2,430.0L1250.8,432.5L1251.4,435.0L1252.1,437.5L1252.7,440.0L1253.3,442.5L1254.0,445.0L1254.7,447.5L1255.4,450.0L1256.1,452.5L1256.8,455.0L1257.5,457.5L1258.3,460.0L1259.1,462.5L1259.9,465.1L1260.8,467.6L1261.6,470.1L1262.6,472.6L1263.6,475.0L1264.7,477.4L1265.9,479.8L1267.1,482.1L1268.4,484.4L1269.7,486.5L1271.0,488.5L1272.6,490.6L1274.2,492.6L1275.9,494.4L1277.6,496.0L1279.3,497.6L1281.5,499.4L1283.7,500.9L1285.9,502.4L1288.0,503.8L1290.1,505.2L1292.2,506.5L1294.2,507.9L1296.0,509.5L1297.7,511.4L1299.2,513.6L1300.7,515.8L1302.0,518.0L1303.0,519.8L1303.9,521.5L1304.8,523.4L1306.0,526.0L1306.9,527.9L1307.9,530.1L1309.0,532.5L1310.2,534.9L1311.5,537.4L1312.7,539.8L1314.0,542.0L1315.3,544.0L1316.7,546.0L1318.0,547.9L1319.5,549.7L1320.9,551.5L1322.4,553.3L1324.0,555.0L1325.7,556.7L1327.5,558.5L1329.4,560.2L1331.3,561.9L1333.1,563.5L1334.7,564.8L1336.0,566.0L1337.9,568.2L1340.0,569.5L1342.0,570.2L1344.6,571.0L1347.4,571.6L1350.3,572.2L1353.0,572.5L1355.4,572.5L1357.7,572.4L1360.0,572.0L1362.4,571.6L1365.0,571.0L1367.4,570.4L1369.9,569.7L1372.5,568.9L1375.1,568.1L1377.6,567.3L1380.0,566.5L1382.6,565.6L1385.1,564.7L1387.5,563.9L1389.8,563.1L1392.0,562.5L1394.6,561.9L1397.1,561.5L1399.5,561.2L1402.0,561.0L1404.5,560.9L1407.0,561.0L1409.5,561.2L1412.0,561.5L1414.5,562.0L1417.0,562.7L1419.5,563.6L1422.0,564.5L1424.5,565.6L1427.0,566.9L1429.5,568.2L1432.0,569.5L1434.5,570.8L1437.0,572.1L1439.5,573.4L1442.0,574.5L1444.5,575.5L1447.0,576.5L1449.5,577.3L1452.0,578.0L1454.5,578.6L1457.1,579.0L1459.6,579.3L1462.0,579.5L1464.9,579.5L1467.5,579.3L1470.0,579.0L1472.7,578.5L1475.2,577.9L1477.0,577.5L1476.3,579.4L1475.3,582.1L1474.0,585.0L1472.9,587.2L1471.7,589.5L1470.4,591.8L1469.0,594.0L1467.6,596.1L1466.1,598.1L1464.6,600.0L1463.0,602.0L1461.3,604.0L1459.6,606.0L1457.8,608.0L1456.0,610.0L1454.5,611.6L1452.9,613.2L1451.2,614.9L1449.6,616.5L1448.0,618.0L1446.0,619.8L1444.1,621.6L1442.1,623.3L1440.0,625.0L1438.1,626.4L1436.1,627.8L1434.1,629.3L1432.0,630.7L1430.0,632.0L1428.0,633.3L1426.0,634.5L1424.0,635.7L1422.0,636.8L1420.0,638.0L1418.0,639.1L1416.0,640.3L1414.0,641.4L1412.0,642.4L1410.0,643.5L1407.5,644.8L1405.0,646.1L1402.5,647.3L1400.0,648.5L1397.5,649.6L1395.0,650.6L1392.5,651.6L1390.0,652.5L1387.5,653.4L1385.0,654.3L1382.5,655.1L1380.0,656.0L1377.5,656.9L1375.0,657.8L1372.5,658.7L1370.0,659.5L1367.5,660.3L1365.0,661.1L1362.5,661.8L1360.0,662.5L1357.5,663.2L1355.0,663.8L1352.5,664.4L1350.0,665.0L1347.7,665.6L1345.6,666.2L1343.2,666.8L1340.0,667.5L1338.0,667.9L1335.7,668.2L1333.2,668.6L1330.6,669.0L1327.9,669.4L1325.2,669.8L1322.6,670.2L1320.0,670.5L1317.6,670.8L1315.2,671.1L1312.9,671.3L1310.6,671.5L1308.2,671.8L1305.7,672.0L1303.0,672.2L1300.0,672.5L1297.9,672.7L1295.6,672.9L1293.2,673.1L1290.7,673.3L1288.2,673.5L1285.6,673.8L1283.0,674.0L1280.4,674.2L1277.7,674.4L1275.1,674.6L1272.5,674.8L1270.0,675.0L1267.5,675.2L1265.1,675.4L1262.7,675.5L1260.4,675.7L1258.0,675.9L1255.6,676.1L1253.2,676.2L1250.7,676.4L1248.2,676.5L1245.6,676.7L1242.9,676.9L1240.0,677.0L1237.8,677.1L1235.5,677.2L1233.3,677.3L1230.9,677.4L1228.6,677.5L1226.2,677.6L1223.7,677.7L1221.2,677.8L1218.7,677.9L1216.2,678.0L1213.6,678.1L1210.9,678.2L1208.3,678.3L1205.5,678.3L1202.8,678.4L1200.0,678.5L1197.7,678.6L1195.4,678.6L1193.0,678.7L1190.6,678.7L1188.2,678.8L1185.7,678.9L1183.2,678.9L1180.7,679.0L1178.2,679.0L1175.6,679.1L1173.1,679.1L1170.5,679.2L1167.9,679.2L1165.3,679.3L1162.7,679.3L1160.2,679.3L1157.6,679.4L1155.0,679.4L1152.5,679.5L1150.0,679.5L1147.7,679.5L1145.7,679.6L1143.9,679.6L1142.4,679.6L1141.0,679.7L1139.7,679.7L1138.5,679.7L1137.2,679.8L1135.9,679.8L1134.4,679.8L1132.7,679.8L1130.8,679.9L1128.6,679.9L1126.0,679.9L1123.0,679.9L1119.6,679.9L1115.6,680.0L1111.1,680.0L1105.9,680.0L1100.0,680.0L1098.4,680.0L1096.8,680.0L1095.1,680.0L1093.3,680.0L1091.5,680.0L1089.7,680.0L1087.8,680.0L1085.9,680.0L1083.9,680.0L1081.8,680.0L1079.8,680.0L1077.6,680.0L1075.5,680.0L1073.3,680.0L1071.1,680.0L1068.8,680.0L1066.5,680.0L1064.2,680.0L1061.8,680.0L1059.4,680.0L1056.9,680.0L1054.5,680.0L1052.0,680.0L1049.4,680.0L1046.9,680.0L1044.3,680.0L1041.7,680.0L1039.1,680.0L1036.5,680.0L1033.8,680.0L1031.1,680.0L1028.4,680.0L1025.7,680.0L1022.9,680.0L1020.2,680.0L1017.4,680.0L1014.6,680.0L1011.9,680.0L1009.1,680.0L1006.2,680.0L1003.4,680.0L1000.6,680.0L997.8,680.0L994.9,680.0L992.1,680.0L989.3,680.0L986.4,680.0L983.6,680.0L980.8,680.0L977.9,680.0L975.1,680.0L972.3,680.0L969.5,680.0L966.6,680.0L963.8,680.0L961.0,680.0L958.3,680.0L955.5,680.0L952.7,680.0L950.0,680.0L947.3,680.0L944.6,680.0L941.9,680.0L939.2,680.0L936.5,680.0L933.9,680.0L931.3,680.0L928.7,680.0L926.2,680.0L923.6,680.0L921.1,680.0L918.7,680.0L916.2,680.0L913.8,680.0L911.4,680.0L909.1,680.0L906.7,680.0L904.5,680.0L902.2,680.0L900.0,680.0L897.1,680.0L894.1,680.0L891.2,680.0L888.2,680.0L885.3,680.0L882.3,680.0L879.3,680.0L876.3,680.0L873.4,680.0L870.4,680.0L867.4,680.0L864.4,680.0L861.4,680.0L858.4,680.0L855.5,680.0L852.5,680.0L849.5,680.0L846.6,680.0L843.7,680.0L840.7,680.0L837.8,680.0L834.9,680.0L832.1,680.0L829.2,680.0L826.4,680.0L823.5,680.0L820.7,680.0L818.0,680.0L815.2,680.0L812.5,680.0L809.8,680.0L807.1,680.0L804.5,680.0L801.9,680.0L799.3,680.0L796.8,680.0L794.3,680.0L791.8,680.0L789.4,680.0L787.0,680.0L784.7,680.0L782.4,680.0L780.1,680.0L777.9,680.0L775.8,680.0L773.7,680.0L771.6,680.0L769.6,680.0L767.6,680.0L765.7,680.0L763.9,680.0L762.1,680.0L760.4,680.0L758.7,680.0L757.1,680.0L755.5,680.0L754.1,680.0L752.6,680.0L751.3,680.0L750.0,680.0" fill="none" stroke="#800000" stroke-width="8.4" stroke-linejoin="round" stroke-linecap="round"/>
<path d="M359.1,791.0L359.5,789.3L360.1,787.0L360.8,784.3L361.5,781.5L362.3,779.1L363.3,776.5L364.4,774.1L365.5,771.8L366.7,769.4L367.6,767.3L368.6,765.1L369.6,762.9L370.6,760.9L371.6,759.1L373.2,756.8L374.8,754.9L376.4,753.1L378.1,751.3L380.0,749.6L381.9,747.7L383.5,745.9L385.1,744.0L386.8,742.0L388.4,740.1L390.0,738.4L391.6,736.7L393.2,735.1L394.9,733.6L396.8,732.3L398.7,731.2L400.5,729.8L402.3,728.3L404.4,727.4L406.4,726.2L408.5,725.2L409.6,722.6L411.9,721.9L414.2,720.9L416.9,720.9L418.8,719.3L420.5,717.1L422.9,716.4L425.1,715.3L427.9,715.0L429.6,712.7L431.7,710.7L434.7,710.7L437.3,709.7L439.3,708.6L441.1,706.8L443.3,705.9L446.0,706.2L448.1,705.3L450.2,704.7L451.7,702.8L453.8,702.6L456.1,702.1L459.1,702.6L460.8,701.0L462.9,700.1L465.0,698.8L467.7,699.1L470.4,699.0L472.5,696.9L475.0,696.2L477.4,695.6L480.0,696.1L482.3,695.6L484.3,694.1L486.6,693.6L489.0,693.2L491.5,694.3L493.7,693.0L496.0,692.4L498.1,691.1L500.5,691.9L502.7,691.8L504.9,691.8L507.0,690.4L509.4,689.6L512.1,690.4L515.1,690.1L517.1,690.1L519.0,688.4L521.1,688.6L523.2,688.3L525.6,689.5L527.8,688.6L530.2,687.9L532.7,687.2L535.5,687.4L538.5,688.3L541.6,687.0L544.9,686.1L547.0,687.1L549.1,687.0L551.4,686.8L553.6,685.6L556.0,685.3L558.6,686.4L561.1,686.0L563.7,685.8L566.3,684.5L569.0,684.8L571.8,686.1L574.5,684.8L577.1,684.0L579.9,684.4L582.6,684.6L585.3,684.8L587.9,683.6L590.4,682.9L593.0,684.3L595.4,683.9L597.8,683.8L599.9,682.3L602.8,682.5L605.6,683.8L608.2,682.8L610.8,682.1L613.4,681.7L615.9,682.1L618.4,683.0L620.8,681.5L623.2,681.2L625.5,680.7L628.0,681.8L630.3,681.8L632.6,680.7L634.9,680.3L637.2,679.9L639.7,681.3L642.0,680.6L644.5,680.2L646.8,679.1L649.1,679.8L651.3,680.2L653.4,680.4L655.5,679.4L657.6,678.8L659.8,678.7L662.0,679.5L664.3,679.9L666.7,678.8L669.2,678.4L671.8,678.0L674.7,679.3L677.8,679.0L681.0,677.5L683.0,678.0L685.0,678.2L687.1,679.0L689.3,678.0L691.5,677.4L693.8,677.0L696.1,677.8L698.5,678.5L700.9,677.4L703.4,677.1L705.9,676.4L708.4,677.8L711.0,677.7L713.5,676.4L716.2,676.5L718.8,676.5L721.4,677.4L724.1,676.8L726.7,675.9L729.3,676.4L732.0,676.4L734.6,676.2L737.2,676.1L739.8,676.0L742.4,676.0L745.0,675.8L747.5,675.8L750.0,675.6L752.5,675.4L755.1,676.0L757.7,676.0L760.3,675.9L763.0,675.9L765.7,675.2L768.5,675.3L771.2,675.4L774.0,675.5L776.8,676.1L779.5,675.8L782.3,675.7L785.0,675.4L787.8,675.0L790.4,675.5L793.1,675.6L795.7,675.9L798.3,676.2L800.8,675.6L803.3,675.5L805.6,675.4L808.0,675.1L810.2,675.4L812.4,675.9L814.4,675.8L816.4,675.8L818.3,676.0L820.0,675.7L824.4,675.1L828.0,674.9L831.1,675.2L833.8,675.5L836.0,675.0L837.9,674.8L839.7,674.7L841.3,674.2L843.1,673.6L845.0,673.6L848.1,673.7L850.7,673.5L853.2,673.9L855.4,673.6L857.6,673.0L860.0,673.0L862.4,672.7L864.7,672.5L866.9,673.1L869.2,673.6L871.9,673.8L875.0,674.3L877.0,674.0L879.0,673.7L881.0,674.0L883.1,674.1L885.3,674.1L887.7,674.9L890.3,675.4L893.2,675.3L896.4,675.5L900.0,675.0L902.0,675.3L904.1,675.6L906.4,675.6L908.8,676.3L911.4,676.5L914.0,676.2L916.8,676.3L919.6,675.9L922.4,676.1L925.2,676.7L928.0,676.8L930.8,677.4L933.6,677.0L936.3,676.8L938.9,676.9L941.4,676.7L943.8,677.3L946.0,677.8L948.1,677.7L950.0,677.8L953.7,677.6L957.0,677.2L959.9,677.5L962.4,677.4L964.7,677.9L966.7,678.2L968.5,678.0L970.3,677.7L972.0,677.7L975.2,677.0L977.3,676.5L979.1,676.3L981.0,676.0L983.5,675.3L986.0,674.5L988.8,673.1L990.8,672.1L993.1,670.9L995.4,669.6L997.8,668.2L1000.0,666.9L1002.1,665.6L1004.2,664.2L1006.2,662.8L1008.2,661.4L1010.0,660.0L1012.1,658.3L1013.9,656.6L1015.7,654.9L1017.5,653.1L1019.4,651.3L1021.2,649.5L1023.1,647.6L1025.0,645.6L1026.5,643.9L1028.0,642.2L1029.5,640.4L1031.0,638.7L1032.5,636.9L1034.0,635.1L1035.5,633.4L1037.0,631.6L1038.5,629.8L1040.0,628.1L1041.9,626.0L1043.8,623.9L1045.7,621.9L1047.5,620.0L1049.2,618.2L1050.8,616.6L1052.4,614.9L1053.8,613.1L1055.0,611.2L1056.1,609.2L1057.1,607.1L1058.1,605.0L1059.0,602.9L1059.8,600.7L1060.5,598.5L1061.2,596.2L1062.0,593.8L1062.8,591.2L1063.6,588.7L1064.4,586.2L1065.2,584.0L1065.9,581.8L1066.7,579.7L1067.5,577.5L1068.4,575.3L1069.3,573.1L1070.3,570.9L1071.2,568.8L1072.2,566.6L1073.1,564.6L1074.0,562.4L1075.0,560.0L1075.8,557.9L1076.7,555.7L1077.6,553.4L1078.5,550.8L1079.5,548.0L1080.1,546.1L1080.8,544.1L1081.5,542.0L1082.2,539.8L1082.9,537.5L1083.6,535.1L1084.3,532.6L1085.0,530.0L1085.5,527.8L1086.1,525.4L1086.6,523.0L1087.1,520.5L1087.6,517.9L1088.1,515.3L1088.6,512.7L1089.1,510.1L1089.6,507.5L1090.0,505.0L1090.4,502.5L1090.8,500.0L1091.2,497.5L1091.6,495.0L1092.0,492.5L1092.3,490.0L1092.7,487.5L1093.0,485.0L1093.4,482.5L1093.8,480.0L1094.1,477.5L1094.5,475.0L1094.9,472.5L1095.2,470.0L1095.6,467.5L1096.0,465.0L1096.4,462.5L1096.8,460.0L1097.1,457.5L1097.5,455.0L1097.9,452.5L1098.3,450.0L1098.6,447.5L1099.0,445.0L1099.4,442.5L1099.8,440.0L1100.1,437.5L1100.5,435.0L1100.9,432.5L1101.2,430.0L1101.6,427.5L1102.0,424.9L1102.4,422.3L1102.8,419.8L1103.2,417.2L1103.6,414.6L1103.9,412.1L1104.3,409.7L1104.7,407.3L1105.0,405.0L1105.4,402.3L1105.8,399.6L1106.2,397.1L1106.6,394.7L1107.0,392.3L1107.3,389.9L1107.7,387.5L1108.0,385.0L1108.3,382.5L1108.5,380.1L1108.7,377.7L1109.0,375.3L1109.2,372.9L1109.4,370.4L1109.7,367.7L1110.0,365.0L1110.3,362.7L1110.6,360.2L1111.0,357.7L1111.4,355.1L1111.8,352.5L1112.2,349.9L1112.6,347.3L1113.0,344.8L1113.4,342.3L1113.8,340.0L1114.2,337.3L1114.6,334.7L1115.1,332.2L1115.5,329.8L1115.9,327.5L1116.4,325.1L1116.9,322.6L1117.5,320.0L1118.1,317.6L1118.7,315.2L1119.3,312.7L1120.0,310.2L1120.7,307.6L1121.3,305.1L1122.0,302.5L1122.7,300.0L1123.3,297.5L1123.9,295.0L1124.5,292.5L1125.1,290.1L1125.7,287.6L1126.3,285.2L1126.8,282.7L1127.4,280.2L1128.0,277.6L1128.5,275.0L1129.0,272.6L1129.5,270.1L1129.9,267.5L1130.4,264.9L1130.9,262.3L1131.3,259.8L1131.7,257.2L1132.2,254.7L1132.6,252.3L1133.0,250.0L1133.5,247.3L1134.0,244.6L1134.4,242.1L1134.8,239.7L1135.2,237.3L1135.7,234.9L1136.1,232.5L1136.5,230.0L1136.9,227.5L1137.3,224.9L1137.8,222.3L1138.2,219.7L1138.6,217.1L1139.0,214.6L1139.4,212.3L1139.8,210.0L1140.2,207.2L1140.6,204.5L1141.0,202.0L1141.4,199.6L1141.9,197.3L1142.5,195.0L1143.4,191.9L1144.4,188.6L1145.4,185.6L1146.5,183.4L1147.5,182.5L1148.5,183.3L1149.4,185.3L1150.3,188.3L1151.2,191.6L1152.0,195.0L1152.5,197.1L1152.9,199.5L1153.3,202.0L1153.7,204.5L1154.0,207.2L1154.4,209.8L1154.7,212.4L1155.0,215.0L1155.3,217.5L1155.6,220.0L1155.8,222.5L1156.1,225.0L1156.3,227.5L1156.5,230.0L1156.8,232.5L1157.0,235.0L1157.2,237.5L1157.5,240.0L1157.7,242.5L1157.9,245.0L1158.1,247.5L1158.3,250.0L1158.5,252.5L1158.8,255.0L1159.0,257.5L1159.2,259.9L1159.4,262.4L1159.6,264.8L1159.8,267.3L1160.0,269.8L1160.3,272.4L1160.5,275.0L1160.7,277.4L1160.9,279.8L1161.1,282.3L1161.4,284.8L1161.6,287.4L1161.8,289.9L1162.1,292.5L1162.3,295.0L1162.5,297.5L1162.7,300.0L1162.9,302.5L1163.2,305.1L1163.4,307.6L1163.6,310.2L1163.8,312.7L1164.1,315.2L1164.3,317.6L1164.5,320.0L1164.7,322.6L1165.0,325.1L1165.2,327.5L1165.5,329.8L1165.7,332.2L1166.0,334.7L1166.2,337.3L1166.5,340.0L1166.7,342.3L1167.0,344.8L1167.2,347.4L1167.5,350.0L1167.7,352.6L1168.0,355.3L1168.2,357.9L1168.5,360.4L1168.7,362.8L1169.0,365.0L1169.4,368.0L1169.7,370.8L1170.1,373.5L1170.4,376.1L1170.8,378.5L1171.2,380.8L1171.5,383.0L1171.9,385.8L1172.3,388.3L1172.7,390.6L1173.1,392.8L1173.8,395.0L1174.8,397.7L1176.0,400.3L1177.3,402.7L1178.8,405.0L1180.3,406.9L1182.0,408.6L1183.6,410.3L1185.0,412.5L1185.9,414.6L1186.7,416.9L1187.5,419.4L1188.1,422.1L1188.8,425.0L1189.2,427.2L1189.6,429.6L1189.9,432.2L1190.2,434.7L1190.6,437.4L1190.9,440.0L1191.2,442.5L1191.6,445.0L1191.9,447.4L1192.3,449.9L1192.6,452.3L1193.0,454.8L1193.4,457.4L1193.8,460.0L1194.1,462.3L1194.5,464.7L1194.9,467.1L1195.3,469.5L1195.7,472.0L1196.1,474.6L1196.5,477.2L1197.0,480.0L1197.4,482.3L1197.8,484.7L1198.2,487.1L1198.6,489.6L1199.0,492.2L1199.4,494.8L1199.9,497.3L1200.3,499.9L1200.8,502.5L1201.2,505.0L1201.7,507.5L1202.2,510.0L1202.7,512.5L1203.1,515.0L1203.6,517.5L1204.1,520.0L1204.6,522.5L1205.2,525.0L1205.7,527.5L1206.2,530.0L1206.8,532.5L1207.4,535.0L1208.0,537.6L1208.5,540.1L1209.1,542.7L1209.8,545.2L1210.4,547.7L1211.1,550.2L1211.8,552.6L1212.5,555.0L1213.3,557.4L1214.1,559.7L1214.9,562.1L1215.7,564.4L1216.6,566.7L1217.5,569.0L1218.4,571.2L1219.3,573.4L1220.3,575.5L1221.2,577.5L1222.5,580.0L1223.8,582.3L1225.1,584.6L1226.5,586.9L1227.9,589.0L1229.4,591.1L1230.9,593.1L1232.5,595.0L1234.2,596.8L1235.9,598.6L1237.7,600.3L1239.6,602.0L1241.5,603.5L1243.5,604.9L1245.5,606.3L1247.5,607.5L1249.8,608.8L1252.2,609.9L1254.7,610.9L1257.2,611.8L1259.7,612.6L1262.3,613.2L1265.0,613.8L1267.3,614.1L1269.7,614.3L1272.1,614.4L1274.5,614.5L1277.0,614.4L1279.6,614.2L1282.2,614.0L1285.0,613.8L1287.3,613.4L1289.7,613.1L1292.1,612.6L1294.6,612.1L1297.2,611.5L1299.8,610.9L1302.3,610.3L1304.9,609.8L1307.5,609.2L1310.0,608.8L1312.5,608.3L1315.2,607.9L1317.8,607.5L1320.5,607.1L1323.1,606.7L1325.7,606.4L1328.2,606.0L1330.6,605.6L1332.9,605.3L1335.0,605.0L1338.1,604.5L1340.9,604.0L1343.4,603.6L1345.7,603.2L1347.9,602.8L1350.0,602.5L1352.9,602.1L1355.6,601.9L1357.9,601.7L1360.0,601.7L1363.6,602.3L1366.0,603.0L1365.3,604.4L1364.3,606.4L1363.0,608.7L1361.0,611.0L1359.3,612.4L1357.2,613.9L1354.9,615.4L1352.5,617.0L1350.0,618.5L1347.6,620.0L1345.5,621.3L1343.4,622.6L1341.3,623.9L1339.1,625.2L1336.9,626.5L1334.8,627.8L1332.6,629.0L1330.5,630.2L1328.3,631.4L1326.2,632.6L1324.0,633.8L1321.9,635.0L1319.7,636.2L1317.6,637.3L1315.5,638.4L1313.3,639.5L1311.2,640.6L1309.0,641.7L1306.9,642.7L1304.7,643.8L1302.6,644.8L1300.5,645.8L1298.3,646.8L1296.2,647.8L1294.0,648.8L1291.9,649.7L1289.7,650.7L1287.6,651.6L1285.1,652.7L1282.6,653.7L1280.1,654.7L1277.6,655.7L1275.1,656.7L1272.6,657.6L1270.1,658.5L1267.6,659.4L1265.1,660.3L1262.6,661.2L1260.1,662.0L1257.6,662.8L1255.1,663.5L1252.6,664.2L1250.1,664.8L1247.5,665.4L1245.0,666.0L1242.5,666.6L1240.1,667.1L1237.8,667.6L1235.5,668.1L1233.1,668.6L1230.4,669.1L1227.5,669.6L1225.3,670.0L1223.0,670.4L1220.6,670.8L1218.0,671.2L1215.4,671.7L1212.8,672.1L1210.1,672.5L1207.5,672.9L1205.0,673.3L1202.5,673.7L1200.0,674.0L1197.5,674.4L1195.0,674.7L1192.5,675.1L1190.0,675.4L1187.5,675.7L1185.0,676.0L1182.5,676.3L1180.2,676.6L1178.0,676.8L1176.0,677.1L1174.0,677.3L1171.9,677.6L1169.5,677.8L1166.8,678.0L1163.7,678.2L1160.0,678.3L1158.2,678.4L1156.4,678.4L1154.6,678.4L1152.7,678.5L1150.8,678.5L1148.9,678.5L1146.9,678.5L1144.9,678.6L1142.7,678.6L1140.5,678.6L1138.1,678.6L1135.6,678.6L1133.0,678.6L1130.3,678.6L1127.4,678.6L1124.3,678.6L1121.0,678.7L1117.6,678.7L1113.9,678.7L1110.0,678.8L1108.1,678.8L1106.2,678.8L1104.3,678.8L1102.2,678.8L1100.1,678.9L1098.0,678.9L1095.8,678.9L1093.5,678.9L1091.2,679.0L1088.9,679.0L1086.5,679.0L1084.1,679.0L1081.6,679.1L1079.1,679.1L1076.6,679.1L1074.0,679.2L1071.4,679.2L1068.8,679.2L1066.2,679.2L1063.5,679.3L1060.8,679.3L1058.1,679.3L1055.4,679.4L1052.7,679.4L1050.0,679.4L1047.3,679.5L1044.5,679.5L1041.8,679.5L1039.1,679.6L1036.3,679.6L1033.6,679.6L1030.9,679.7L1028.2,679.7L1025.5,679.7L1022.9,679.7L1020.2,679.8L1017.6,679.8L1015.0,679.8L1012.4,679.9L1009.8,679.9L1007.3,679.9L1004.9,679.9L1002.4,680.0L1000.0,680.0L997.4,680.0L994.7,680.1L992.0,680.1L989.3,680.1L986.6,680.1L983.9,680.3L981.1,680.3L978.4,680.6L975.6,680.0L972.9,680.1L970.1,679.9L967.4,680.5L964.6,680.8L961.9,680.6L959.1,680.6L956.4,679.9L953.7,680.4L951.0,680.4L948.3,681.0L945.6,681.0L943.0,680.6L940.4,680.5L937.8,680.1L935.2,680.7L932.7,680.9L930.2,681.1L927.7,681.2L925.3,680.6L922.9,680.6L920.5,680.5L918.2,680.5L916.0,681.2L913.8,681.2L911.7,681.2L909.6,681.3L907.5,680.7L905.5,680.5L903.6,680.8L901.8,680.8L900.0,680.8L895.9,681.5L892.1,681.1L888.8,680.6L885.8,680.6L883.1,681.0L880.6,681.0L878.3,681.4L876.2,681.0L874.3,680.5L872.4,680.6L870.5,680.4L868.6,680.1L866.6,680.6L864.6,680.9L862.4,680.8L860.0,681.0L857.5,680.6L854.9,680.2L852.4,680.5L849.8,680.4L847.2,681.2L844.6,681.2L842.0,681.1L839.4,680.9L836.8,680.4L834.3,681.0L831.8,681.1L829.3,681.6L826.9,681.8L824.5,681.3L822.2,681.4L820.0,681.2L817.2,681.2L814.5,681.9L812.0,681.9L809.6,682.4L807.3,682.1L805.0,681.7L802.7,682.0L800.4,681.8L798.0,682.3L795.5,682.9L792.8,682.7L790.0,682.9L787.7,682.3L785.3,682.3L782.8,682.7L780.2,682.7L777.5,683.4L774.8,683.0L772.0,683.0L769.2,682.5L766.5,682.7L763.8,683.2L761.2,683.3L758.7,683.7L756.3,683.2L754.0,683.0L751.9,683.2L750.0,683.1L746.2,683.7L743.1,683.8L740.5,684.0L738.2,684.3L736.1,684.5L734.1,684.8L732.0,685.0L729.1,685.3L726.4,685.7L723.9,686.0L721.5,686.4L719.0,686.8L716.5,687.2L713.9,687.7L711.4,688.2L708.9,688.8L706.4,689.3L703.8,689.8L701.2,690.4L698.5,691.0L696.0,691.6L693.6,692.2L690.8,693.0L688.2,693.7L685.7,694.7L683.4,696.0L681.7,697.4L680.1,699.0L678.7,700.9L677.3,702.9L676.0,705.0L675.0,706.9L674.0,708.9L673.1,711.0L672.2,713.2L671.4,715.6L670.5,718.0L669.8,720.2L669.0,722.5L668.3,724.8L667.6,727.3L666.9,729.8L666.2,732.4L665.5,735.0L664.9,737.4L664.3,739.8L663.7,742.3L663.2,744.8L662.6,747.4L662.0,749.9L661.5,752.5L661.0,755.0L660.5,757.5L660.1,760.0L659.6,762.5L659.2,765.0L658.8,767.5L658.4,770.0L657.9,772.5L657.5,775.0L657.1,777.5L656.6,780.1L656.2,782.7L655.7,785.3L655.3,787.9L654.8,790.4L654.4,792.7L654.0,795.0L653.5,797.8L653.0,800.4L652.5,802.8L652.0,805.2L651.5,807.6L651.0,810.0L650.5,812.5L650.0,815.0L649.5,817.5L649.0,820.0L648.5,822.5L648.0,825.0L647.5,827.5L647.0,830.0L646.5,832.5L646.0,835.0L645.5,837.5L645.0,840.0L644.4,842.5L643.9,845.1L643.3,847.8L642.7,850.3L642.1,852.7L641.5,855.0L640.8,857.5L640.1,859.8L639.4,861.9L638.7,864.0L638.0,866.0L637.1,868.4L636.1,870.8L635.1,873.0L634.0,875.0L632.4,877.4L630.8,879.6L629.0,881.5L627.1,883.1L625.0,884.5L623.0,885.5L620.2,886.2L617.5,886.3L615.2,886.2L613.0,885.5L610.6,884.1L608.0,882.0L606.6,880.6L605.0,878.9L603.5,877.0L602.0,875.0L600.9,873.3L599.8,871.5L598.7,869.5L597.7,867.4L596.5,865.0L595.6,863.2L594.7,861.2L593.8,859.2L592.9,857.0L591.9,854.8L591.0,852.4L590.0,850.0L589.2,848.0L588.5,845.9L587.7,843.7L586.9,841.5L586.1,839.2L585.3,836.9L584.5,834.5L583.6,832.2L582.8,830.0L582.0,827.8L581.1,825.6L580.2,823.3L579.4,821.1L578.5,818.9L577.6,816.7L576.7,814.4L575.9,812.2L575.0,810.0L574.1,807.8L573.3,805.5L572.4,803.1L571.6,800.8L570.8,798.5L569.9,796.3L569.1,794.1L568.3,792.0L567.5,790.0L566.5,787.6L565.6,785.3L564.7,783.2L563.8,781.2L562.9,779.1L561.9,777.1L560.8,775.0L559.6,772.8L558.3,770.5L556.7,768.3L555.2,766.2L553.8,763.9L552.6,761.8L551.3,759.8L549.3,758.1L547.5,756.5L545.9,754.8L544.8,752.8L543.5,751.0L541.6,749.9L539.6,748.5L537.5,747.4L536.3,745.4L534.6,743.9L533.0,741.8L530.5,741.3L528.4,739.9L526.1,738.8L524.5,736.5L522.4,735.2L520.1,734.2L517.3,733.9L514.8,733.0L512.6,731.3L510.1,730.7L507.6,730.1L504.9,730.8L502.5,729.8L500.0,729.5L497.6,728.2L495.0,729.0L492.5,729.1L490.0,729.8L487.5,728.8L485.0,728.9L482.4,728.9L479.9,730.3L477.2,730.9L474.4,730.6L471.9,731.0L469.8,731.5L467.4,734.2L465.1,735.4L462.6,736.7L459.6,738.1L458.1,739.6L456.5,741.5L454.6,743.1L452.3,744.4L449.8,745.6L448.5,748.1L446.7,750.2L445.3,752.5L442.6,753.7L441.0,755.9L439.6,758.1L438.7,760.6L437.1,762.3L435.4,763.8L433.4,765.0L432.6,767.1L431.2,769.3L430.5,771.9L428.5,773.7L426.9,776.1L426.2,778.9L425.3,781.3L423.6,784.1L420.6,785.4L419.4,787.4L418.2,789.6L418.1,792.3L417.1,794.8L415.4,797.2L414.1,799.5L412.1,800.9L410.5,803.3L408.0,804.2L406.4,806.3L404.4,808.3L403.5,810.6L401.5,811.8L399.3,812.7L397.0,812.0L394.2,812.3L391.7,812.3L389.6,812.3L387.9,810.9L385.9,810.1L384.2,808.1L381.9,807.5L380.0,806.4L377.0,805.0L375.2,802.7L372.8,801.1L370.0,800.7L367.8,798.9L365.4,796.7L363.4,794.6L360.9,792.4L359.1,791.0" fill="none" stroke="#008000" stroke-width="8.4" stroke-linejoin="round" stroke-linecap="round"/>
</g>
<g fill="#000" shape-rendering="crispEdges">
<rect x="245" y="47" width="4" height="1000"/>
<rect x="1587" y="47" width="5" height="1000"/>
<rect x="237" y="47" width="1355" height="4"/>
<rect x="237" y="1043" width="1355" height="4"/>
<rect x="228" y="1010" width="18" height="4"/>
<rect x="237" y="977" width="9" height="4"/>
<rect x="237" y="943" width="9" height="5"/>
<rect x="237" y="910" width="9" height="5"/>
<rect x="237" y="877" width="9" height="4"/>
<rect x="228" y="844" width="18" height="4"/>
<rect x="237" y="810" width="9" height="5"/>
<rect x="237" y="777" width="9" height="5"/>
<rect x="237" y="744" width="9" height="4"/>
<rect x="237" y="711" width="9" height="4"/>
<rect x="228" y="678" width="18" height="4"/>
<rect x="237" y="644" width="9" height="5"/>
<rect x="237" y="611" width="9" height="5"/>
<rect x="237" y="578" width="9" height="4"/>
<rect x="237" y="545" width="9" height="4"/>
<rect x="228" y="511" width="18" height="5"/>
<rect x="237" y="478" width="9" height="5"/>
<rect x="237" y="445" width="9" height="5"/>
<rect x="237" y="412" width="9" height="4"/>
<rect x="237" y="379" width="9" height="4"/>
<rect x="228" y="345" width="18" height="5"/>
<rect x="237" y="312" width="9" height="5"/>
<rect x="237" y="279" width="9" height="4"/>
<rect x="237" y="246" width="9" height="4"/>
<rect x="237" y="212" width="9" height="5"/>
<rect x="228" y="179" width="18" height="5"/>
<rect x="237" y="146" width="9" height="5"/>
<rect x="237" y="113" width="9" height="4"/>
<rect x="237" y="80" width="9" height="4"/>
<rect x="245" y="1043" width="4" height="21"/>
<rect x="468" y="1043" width="5" height="21"/>
<rect x="692" y="1043" width="5" height="21"/>
<rect x="916" y="1043" width="5" height="21"/>
<rect x="1140" y="1043" width="5" height="21"/>
<rect x="1363" y="1043" width="5" height="21"/>
<rect x="1587" y="1043" width="5" height="21"/>
</g>
<g font-family="'Liberation Sans', Arial, sans-serif" font-size="40.2" fill="#000">
<text x="215.5" y="1024.5" text-anchor="end">−0.10</text>
<text x="215.5" y="858.4" text-anchor="end">−0.05</text>
<text x="215.5" y="692.3" text-anchor="end">0.00</text>
<text x="215.5" y="526.2" text-anchor="end">0.05</text>
<text x="215.5" y="360.1" text-anchor="end">0.10</text>
<text x="215.5" y="194.0" text-anchor="end">0.15</text>
<text x="247.0" y="1108.3" text-anchor="middle">−3</text>
<text x="470.8" y="1108.3" text-anchor="middle">−2</text>
<text x="694.5" y="1108.3" text-anchor="middle">−1</text>
<text x="918.2" y="1108.3" text-anchor="middle">0</text>
<text x="1142.0" y="1108.3" text-anchor="middle">1</text>
<text x="1365.8" y="1108.3" text-anchor="middle">2</text>
<text x="1589.5" y="1108.3" text-anchor="middle">3</text>
</g>
<g font-family="'Liberation Sans', Arial, sans-serif" font-size="49" fill="#000">
<text x="917.5" y="1184.6" text-anchor="middle"><tspan font-weight="bold">E</tspan> / V</text>
<text transform="translate(78.8,579.3) rotate(-90)"><tspan font-weight="bold">I</tspan> / mA</text>
</g>
<g shape-rendering="crispEdges">
<rect x="323" y="132" width="100" height="8" fill="#000080"/>
<rect x="323" y="181" width="100" height="8" fill="#800000"/>
<rect x="323" y="230" width="100" height="8" fill="#008000"/>
</g>
<g font-family="'Liberation Sans', Arial, sans-serif" font-size="36" font-weight="bold" fill="#000" stroke="#000" stroke-width="0.7">
<text x="431.3" y="149.5" textLength="96.5" lengthAdjust="spacingAndGlyphs">SQ 4b</text>
<text x="431.3" y="198.5" textLength="96.5" lengthAdjust="spacingAndGlyphs">SQ 5b</text>
<text x="431.3" y="247.5" textLength="92" lengthAdjust="spacingAndGlyphs">SQ 5c</text>
</g>
</svg>
</body></html>
